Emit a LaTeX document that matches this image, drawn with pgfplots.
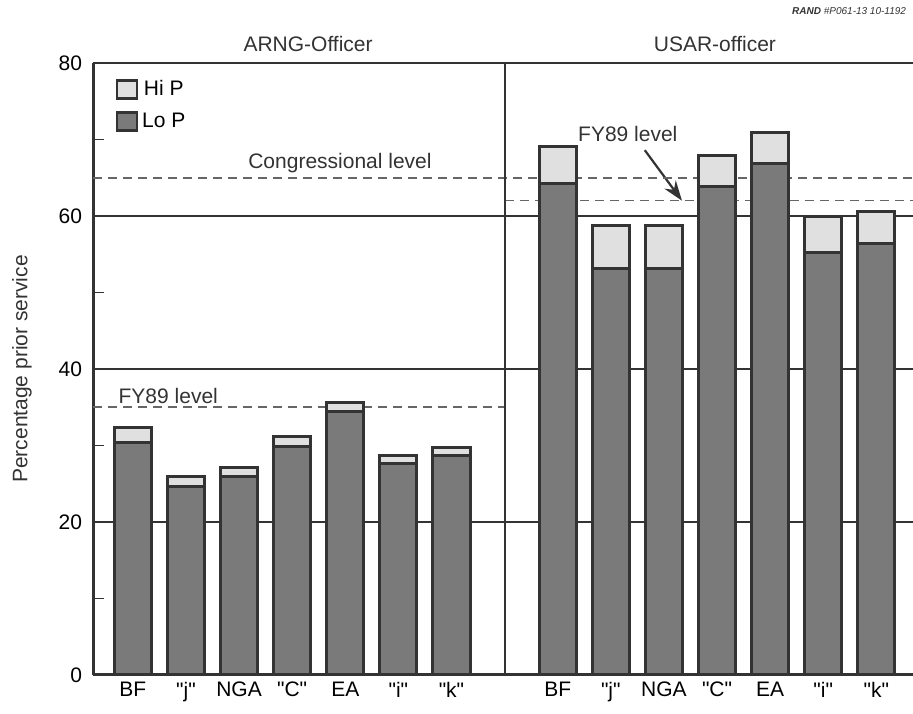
\documentclass[border=0pt]{standalone}
\usepackage{fontspec}
\setmainfont{Liberation Sans}
\usepackage{pgfplots}
\pgfplotsset{compat=1.18}
\usetikzlibrary{arrows.meta}

\definecolor{lop}{gray}{0.48}
\definecolor{hip}{gray}{0.88}
\definecolor{ink}{gray}{0.20}
\newcommand{\q}[1]{\textquotedbl#1\textquotedbl}

% x: 0-6 ARNG, 8-14 USAR
\pgfplotstableread{
x  lo   hi
0  30.4 1.9
1  24.7 1.2
2  25.9 1.2
3  29.9 1.3
4  34.4 1.2
5  27.7 1.0
6  28.7 1.1
8  64.3 4.8
9  53.1 5.7
10 53.1 5.7
11 63.8 4.1
12 66.9 4.0
13 55.2 4.7
14 56.4 4.2
}\prior

\begin{document}
\begin{tikzpicture}[font=\fontsize{10.5}{12}\selectfont]
\begin{axis}[
    name=ax,
    scale only axis,
    width=410pt, height=306pt,
    xmin=-0.75, xmax=14.69,
    ymin=0, ymax=80,
    ybar stacked,
    bar width=0.7,
    axis x line*=bottom,
    axis y line*=left,
    axis line style={-, line width=1.5pt, ink},
    xtick={0,1,2,3,4,5,6,8,9,10,11,12,13,14},
    xticklabels={BF,\q{j},NGA,\q{C},EA,\q{i},\q{k},BF,\q{j},NGA,\q{C},EA,\q{i},\q{k}},
    x tick style={draw=none},
    ytick={0,20,40,60,80},
    minor ytick={10,30,50,70},
    major tick length=0pt,
    minor tick length=5.5pt,
    tick align=inside,
    y tick style={line width=0.8pt, ink},
    ymajorgrids,
    grid style={line width=0.7pt, ink},
    tick label style={font=\fontsize{10.5}{12}\selectfont},
    yticklabel style={xshift=-2pt},
    /pgf/number format/assume math mode=true,
    clip=false,
    reverse legend,
    legend style={draw=none, fill=none, at={(rel axis cs:0.02,0.985)},
        anchor=north west, row sep=3pt, font=\fontsize{10.5}{12}\selectfont},
    legend image code/.code={\draw[#1, line width=1.2pt] (0pt,-4.5pt) rectangle (10pt,4.5pt);},
]
\addplot[fill=lop, draw=ink, line width=1.5pt] table[x=x, y=lo] {\prior};
\addplot[fill=hip, draw=ink, line width=1.5pt] table[x=x, y=hi] {\prior};
\legend{Lo P, Hi P}

% panel divider
\draw[line width=0.9pt, ink] (axis cs:7,0) -- (axis cs:7,80);

% reference levels
\draw[black!60, line width=0.8pt, dash pattern=on 4.5pt off 3pt] (axis cs:-0.75,65) -- (axis cs:14.69,65);
\draw[black!60, line width=0.8pt, dash pattern=on 4.5pt off 3pt] (axis cs:-0.75,35) -- (axis cs:7,35);
\draw[black!60, line width=0.8pt, dash pattern=on 4.5pt off 3pt] (axis cs:7,62) -- (axis cs:14.69,62);

\node[ink] at (axis cs:3.9,66.9) {Congressional level};
\node[ink, anchor=west] at (axis cs:-0.4,36.5) {FY89 level};
\node[ink] at (axis cs:9.32,70.7) {FY89 level};
\draw[ink, line width=1.1pt, -{Stealth[length=10pt,width=7pt]}] (axis cs:9.64,68.6) -- (axis cs:10.34,62.0);

% panel titles
\node[ink] at (axis cs:3.3,82.5) {ARNG-Officer};
\node[ink] at (axis cs:10.96,82.5) {USAR-officer};
\node[ink, anchor=east, font=\fontsize{5}{6}\selectfont\itshape] at (rel axis cs:1,1.085) {\textbf{RAND} \#P061-13 10-1192};

\node[ink, rotate=90] at ([xshift=-35.5pt]rel axis cs:0,0.5) {Percentage prior service};
\end{axis}
\pgfresetboundingbox
\path[use as bounding box] ([xshift=-46.5pt,yshift=-19.5pt]ax.south west) rectangle ([yshift=31.5pt]ax.north east);
\end{tikzpicture}
\end{document}
